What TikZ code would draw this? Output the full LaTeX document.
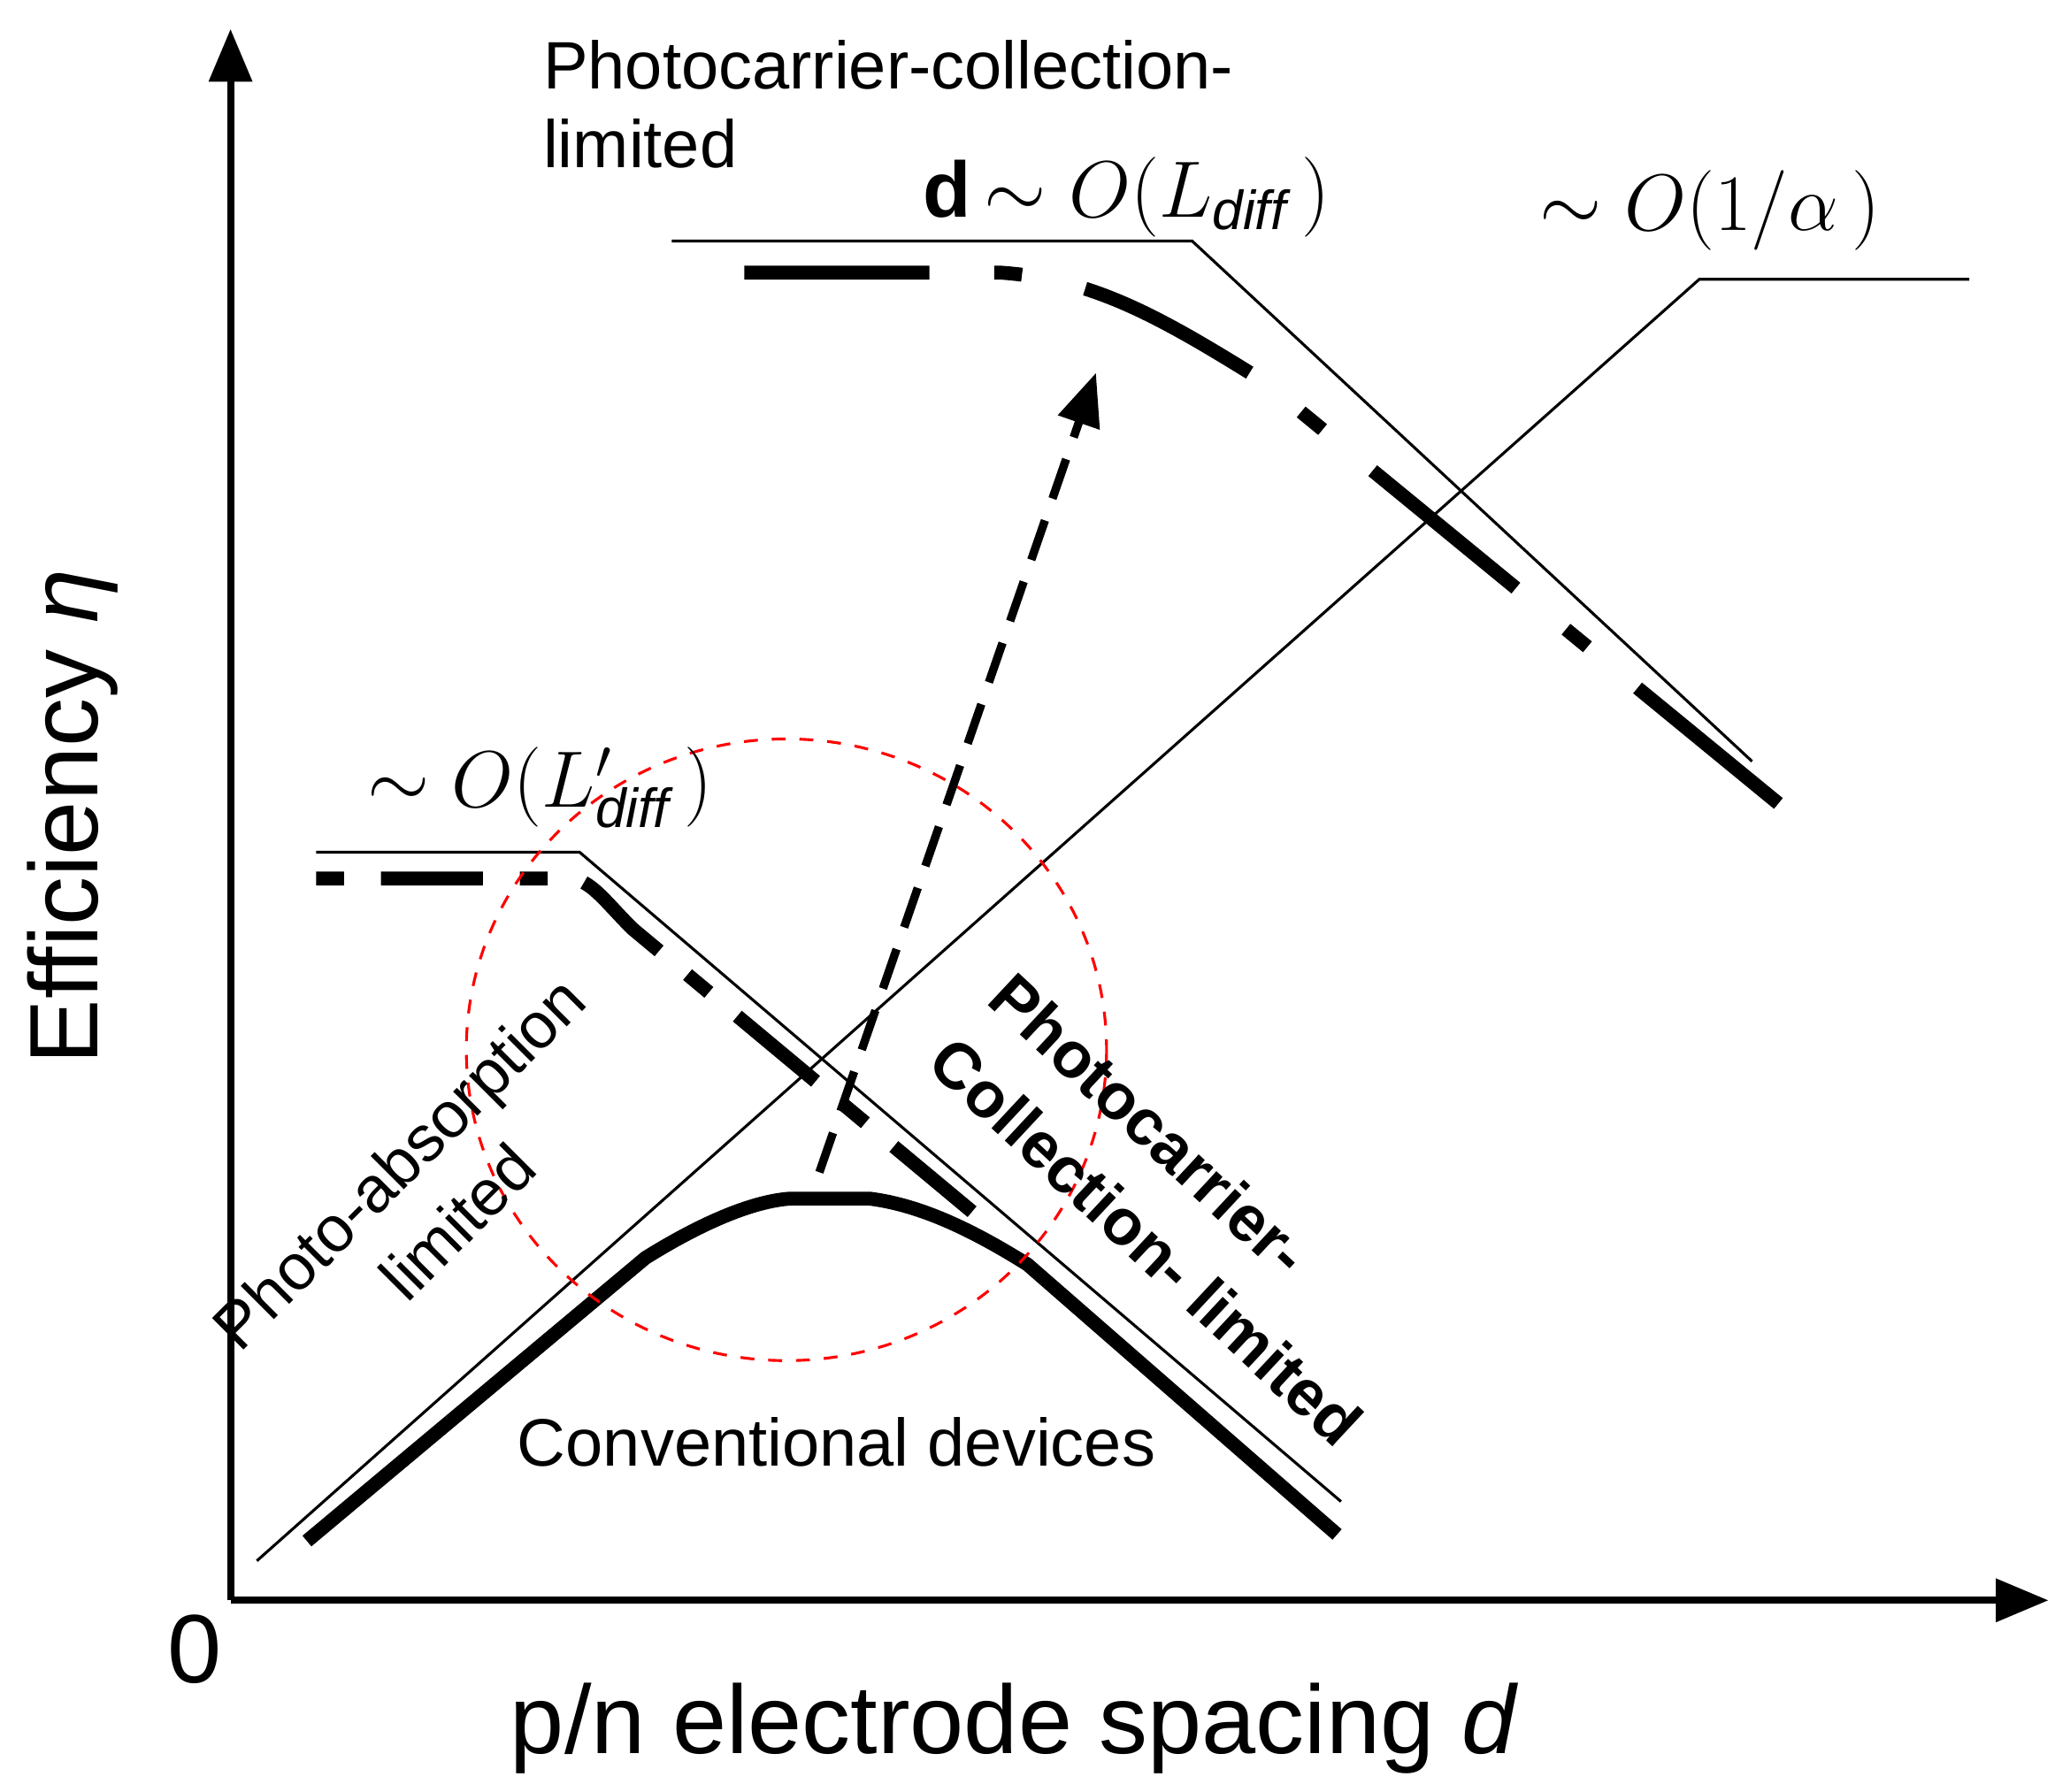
\documentclass[tikz,border=0pt]{standalone}
\usepackage{fontspec}
\setmainfont{Liberation Sans}
\usetikzlibrary{arrows.meta}
\tikzset{
  thin curve/.style={line width=0.6pt},
  thick curve/.style={line width=3pt},
  axis/.style={line width=1.5pt,-{Triangle[length=4mm,width=3.2mm]}},
  big label/.style={font=\fontsize{21}{25}\selectfont},
  mid label/.style={font=\fontsize{14.5}{17}\selectfont},
  math label/.style={font=\fontsize{17}{20}\selectfont},
}
\begin{document}
\begin{tikzpicture}[x=0.1mm,y=-0.1mm]
  \useasboundingbox (0,0) rectangle (1560,1360);
  % axes
  \coordinate (O) at (175,1215);
  \coordinate (ytop) at (175,22);
  \coordinate (xend) at (1555,1215);
  \draw[axis] (O) -- (ytop);
  \draw[axis] (O) -- (xend);
  \node[big label] (zero) at (148,1252) {0};
  \node[big label] (xlab) at (770,1312) {p/n electrode spacing \textit{d}};
  \node[big label, rotate=90] (ylab) at (55,620) {Efficiency \textit{η}};
  % absorption limit
  \draw[thin curve] (195,1185) -- (1290,212) -- (1495,212);
  % long diffusion length
  \draw[thin curve] (510,183) -- (905,183) -- (1330,578);
  \draw[thick curve, dash pattern=on 40pt off 14pt on 6pt off 14pt]
    (565,207) -- (760,207) .. controls (830,212) and (880,240) .. (960,290) -- (1350,610);
  % short diffusion length
  \draw[thin curve] (240,647) -- (440,647) -- (1018,1140);
  \draw[thick curve, dash pattern=on 6pt off 8pt on 22pt off 8pt]
    (240,667) -- (435,667) .. controls (450,670) and (460,685) .. (480,705) -- (750,930);
  % conventional devices
  \draw[thick curve] (233,1170) -- (490,955) .. controls (530,930) and (570,912) .. (600,910)
    -- (660,910) .. controls (700,915) and (740,935) .. (780,960) -- (1015,1165);
  % red circle
  \draw[red, dashed, line width=0.6pt] (597,797) ellipse (243 and 236);
  % improvement arrow
  \coordinate (astart) at (622,890);
  \coordinate (aend) at (832,283);
  \draw[line width=1.8pt, dash pattern=on 9pt off 5pt, -{Triangle[length=4mm,width=3.2mm]}] (astart) -- (aend);
  % labels
  \node[mid label, align=left, anchor=north west] (pcl) at (400,18) {Photocarrier-collection-\\limited};
  \node[math label] (ldiff) at (855,150) {\textbf{d}$\,\sim O(L_{\mathit{diff}}\,)$};
  \node[math label] (alpha) at (1298,160) {$\sim O(1/\alpha\,)$};
  \node[math label] (ldiffp) at (410,598) {$\sim O(L'_{\mathit{diff}}\,)$};
  \node[mid label, rotate=45, align=center, font=\fontsize{14}{18}\selectfont] (pal) at (325,905) {Photo-absorption\\limited};
  \node[rotate=-43, align=left, font=\fontsize{14}{19}\selectfont\bfseries] (pccl) at (893,918) {Photocarrier-\\Collection- limited};
  \node[mid label] (conv) at (635,1095) {Conventional devices};
\end{tikzpicture}
\end{document}
